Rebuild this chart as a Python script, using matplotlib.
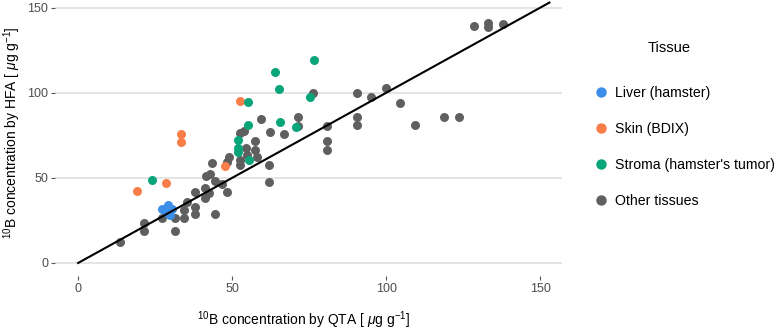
import numpy as np
import matplotlib.pyplot as plt

plt.rcParams['font.family'] = ['Liberation Sans', 'DejaVu Sans']
plt.rcParams['mathtext.fontset'] = 'custom'
plt.rcParams['mathtext.rm'] = 'Liberation Sans'
plt.rcParams['mathtext.it'] = 'Liberation Sans:italic'

# data (QTA, HFA)
liver_x = [27.2, 29.3, 30.4, 29.9, 28.6]
liver_y = [31.6, 34.1, 31.6, 28.2, 30.2]

skin_x = [19.2, 28.6, 33.4, 33.4, 47.6, 52.4]
skin_y = [42.4, 47.2, 75.9, 71.0, 56.8, 95.3]

stroma_x = [24.0, 51.9, 51.9, 51.9, 55.2, 55.2, 55.4, 63.8, 65.2, 65.4, 70.6, 75.2, 76.5]
stroma_y = [48.8, 72.0, 67.5, 65.3, 80.8, 94.5, 60.6, 112.2, 102.4, 83.1, 79.8, 97.8, 119.2]

other_x = [13.7, 21.4, 21.4, 27.2, 31.5, 31.5, 34.4, 34.4, 35.4, 38.0, 38.0, 38.0,
           41.2, 42.5, 41.2, 41.5, 42.8, 43.4, 44.5, 44.6, 46.7, 48.4, 48.9, 48.4,
           52.4, 52.6, 52.5, 53.8, 54.6, 54.8, 57.3, 57.3, 58.0, 59.3, 61.9, 61.9,
           62.2, 66.8, 71.3, 71.3, 76.3, 80.9, 80.9, 80.9, 90.5, 90.5, 90.5, 95.0,
           99.9, 104.5, 109.4, 118.8, 123.5, 128.4, 133.0, 133.0, 137.8]
other_y = [12.5, 23.7, 18.8, 26.7, 26.7, 18.8, 26.3, 31.2, 36.1, 41.8, 32.7, 28.6,
           44.0, 41.0, 38.0, 51.0, 52.5, 58.6, 28.6, 48.0, 46.7, 42.0, 62.5, 59.6,
           57.6, 60.6, 76.3, 77.3, 67.5, 63.5, 71.4, 66.5, 62.4, 84.5, 57.6, 47.4,
           76.7, 75.8, 85.6, 80.6, 99.8, 80.7, 71.4, 66.5, 99.8, 85.5, 80.8, 97.8,
           102.7, 94.0, 80.8, 85.5, 85.5, 139.0, 141.0, 138.6, 140.6]

line_x = [0, 153]
line_y = [0, 153]

groups = ['Liver (hamster)', 'Skin (BDIX)', "Stroma (hamster's tumor)", 'Other tissues']
colors = ['#3C8EE8', '#F97D48', '#08A47A', '#5F5F5F']

fig = plt.figure(figsize=(7.82, 3.31), dpi=100)
ax = fig.add_axes([55 / 782, 55 / 331, 506.7 / 782, 286.5 / 331])

ms = 42
ax.scatter(other_x, other_y, s=ms, c=colors[3], lw=0, zorder=2)
ax.scatter(liver_x, liver_y, s=ms, c=colors[0], lw=0, zorder=3)
ax.scatter(skin_x, skin_y, s=ms, c=colors[1], lw=0, zorder=3)
ax.scatter(stroma_x, stroma_y, s=ms, c=colors[2], lw=0, zorder=3)
ax.plot(line_x, line_y, c='black', lw=1.5, zorder=4)

ax.set_xlim(-7.5, 157)
ax.set_ylim(-7.65, 160.7)
ax.set_xticks([0, 50, 100, 150])
ax.set_yticks([0, 50, 100, 150])
ax.grid(axis='y', color='#DCDCDC', lw=1.1)
ax.set_axisbelow(True)
for s in ax.spines.values():
    s.set_visible(False)
ax.tick_params(colors='#555555', labelcolor='#4D4D4D', labelsize=9, length=3, width=0.8, pad=2)

fig.text(304 / 782, 1 - 320 / 331, r'$^{10}$B concentration by QTA [ $\mu$g g$^{-1}$]',
         ha='center', va='center', fontsize=10)
fig.text(12 / 782, 1 - 133 / 331, r'$^{10}$B concentration by HFA [ $\mu$g g$^{-1}$]',
         ha='center', va='center', rotation=90, fontsize=10)

fig.text(669 / 782, 1 - 48 / 331, 'Tissue', ha='center', va='center', fontsize=10.5)
handles = [plt.Line2D([], [], marker='o', ls='', color=c, markersize=6.5) for c in colors]
leg = fig.legend(handles, groups, loc='upper left',
                 bbox_to_anchor=(594 / 782, 1 - 86 / 331), frameon=False,
                 fontsize=10.2, labelspacing=1.56, borderpad=0, borderaxespad=0,
                 handletextpad=0.5, handlelength=1.0)

fig.savefig('out.png', dpi=100)
